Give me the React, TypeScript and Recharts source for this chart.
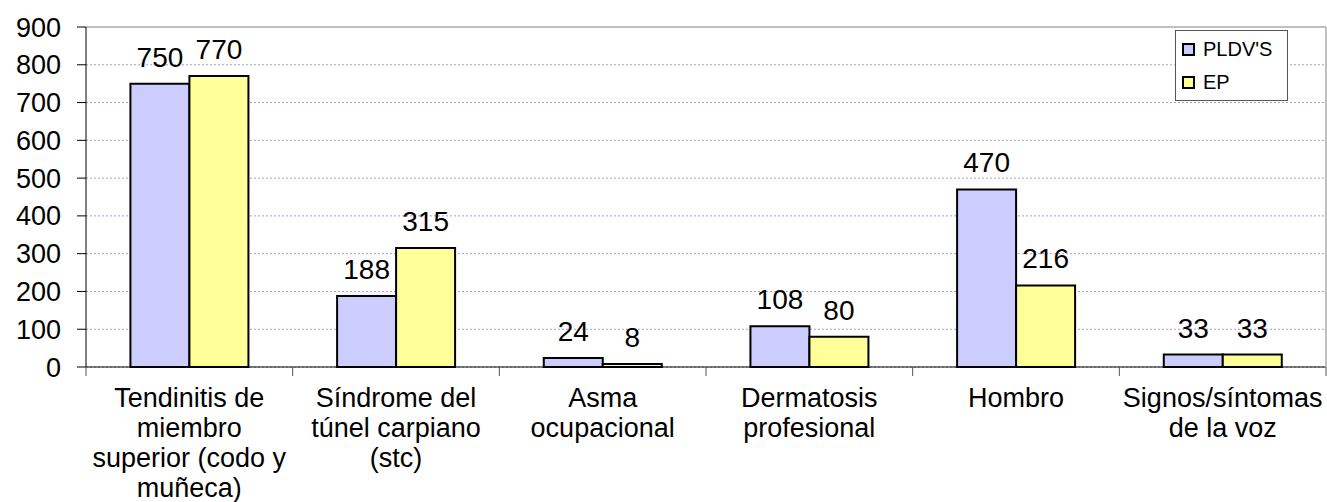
import { Bar, BarChart, CartesianGrid, LabelList, Legend, ReferenceLine, XAxis, YAxis } from 'recharts';

const categories = [
  'Tendinitis de\nmiembro\nsuperior (codo y\nmuñeca)',
  'Síndrome del\ntúnel carpiano\n(stc)',
  'Asma\nocupacional',
  'Dermatosis\nprofesional',
  'Hombro',
  'Signos/síntomas\nde la voz',
];
const pldvs = [750, 188, 24, 108, 470, 33];
const ep = [770, 315, 8, 80, 216, 33];
const yTicks = [0, 100, 200, 300, 400, 500, 600, 700, 800, 900];

const series = [
  { key: 'pldvs', name: "PLDV'S", color: '#ccccff' },
  { key: 'ep', name: 'EP', color: '#ffff99' },
];

const data = categories.map((name, i) => ({ name, pldvs: pldvs[i], ep: ep[i] }));

const FONT = '"Liberation Sans", Arial, sans-serif';

function CategoryTick(props: any) {
  const { x, y, payload, index } = props;
  const half = payload.offset ?? 1240 / 12;
  const lines = String(payload.value).split('\n');
  return (
    <g>
      <line x1={x - half} x2={x - half} y1={y} y2={y + 9} stroke="#555" strokeWidth={1} />
      {index === categories.length - 1 && (
        <line x1={x + half} x2={x + half} y1={y} y2={y + 9} stroke="#555" strokeWidth={1} />
      )}
      <text x={x} y={y + 40} textAnchor="middle" fontSize={27} fontFamily={FONT} fill="#000">
        {lines.map((l, i) => (
          <tspan key={i} x={x} dy={i === 0 ? 0 : 30}>
            {l}
          </tspan>
        ))}
      </text>
    </g>
  );
}

function ValueLabel(props: any) {
  const { x, y, width, value } = props;
  return (
    <text x={x + width / 2} y={y - 17} textAnchor="middle" fontSize={28} fontFamily={FONT} fill="#000">
      {value}
    </text>
  );
}

function LegendBox() {
  return (
    <div
      style={{
        width: 111,
        height: 69,
        border: '1px solid #555',
        background: '#fff',
        fontFamily: FONT,
        fontSize: 20,
        color: '#000',
        boxSizing: 'content-box',
      }}
    >
      {series.map((s, i) => (
        <div key={s.key} style={{ display: 'flex', alignItems: 'center', height: 33, marginTop: i === 0 ? 2 : 0 }}>
          <span
            style={{
              display: 'inline-block',
              width: 9,
              height: 9,
              border: '2px solid #000',
              background: s.color,
              marginLeft: 6,
              marginRight: 8,
            }}
          />
          <span>{s.name}</span>
        </div>
      ))}
    </div>
  );
}

export default function App() {
  return (
    <div style={{ position: 'absolute', left: 0, top: 0, background: '#fff' }}>
      <BarChart
        width={1327}
        height={502}
        data={data}
        margin={{ top: 27, right: 0, left: 0, bottom: 0 }}
        barCategoryGap="21.5%"
        barGap={0}
      >
        <CartesianGrid vertical={false} stroke="#a0a0cc" strokeDasharray="2 2" />
        <XAxis
          dataKey="name"
          height={135}
          interval={0}
          tickLine={false}
          tickSize={0}
          tickMargin={0}
          axisLine={{ stroke: '#000', strokeWidth: 1 }}
          tick={<CategoryTick />}
        />
        <YAxis
          width={86}
          domain={[0, 900]}
          ticks={yTicks}
          interval={0}
          tickSize={9}
          tickMargin={16}
          axisLine={{ stroke: '#000', strokeWidth: 1 }}
          tickLine={{ stroke: '#000', strokeWidth: 1 }}
          tick={{ fontSize: 27, fill: '#000', fontFamily: FONT }}
        />
        <YAxis
          yAxisId="r"
          orientation="right"
          width={1}
          domain={[0, 900]}
          tick={false}
          tickLine={false}
          axisLine={{ stroke: '#c0c0c0', strokeWidth: 2 }}
        />
        <ReferenceLine y={900} stroke="#c0c0c0" strokeWidth={2} />
        <Legend
          content={<LegendBox />}
          layout="vertical"
          verticalAlign="middle"
          align="center"
          wrapperStyle={{ position: 'absolute', left: 1175, top: 30, width: 'auto', height: 'auto' }}
        />
        {series.map((s) => (
          <Bar key={s.key} dataKey={s.key} name={s.name} fill={s.color} stroke="#000" strokeWidth={2} isAnimationActive={false}>
            <LabelList dataKey={s.key} content={<ValueLabel />} />
          </Bar>
        ))}
      </BarChart>
    </div>
  );
}
